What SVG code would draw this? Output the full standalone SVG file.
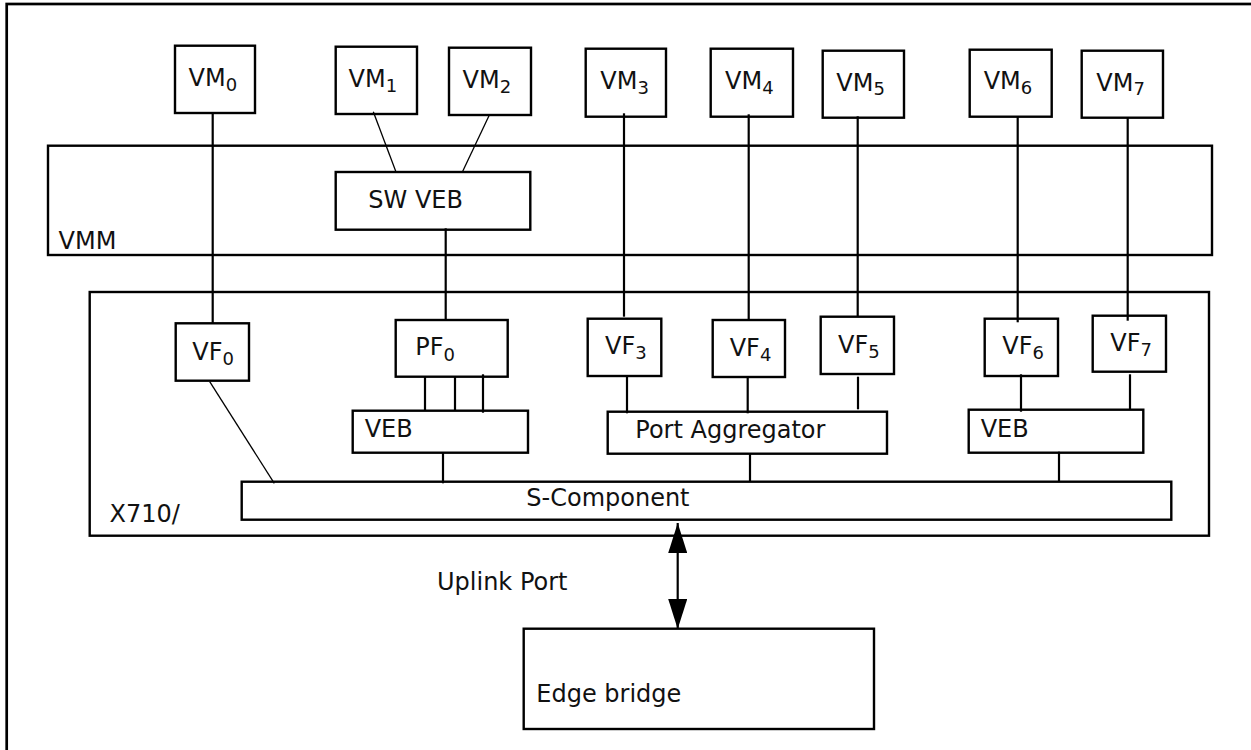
<svg xmlns="http://www.w3.org/2000/svg" width="1251" height="750" viewBox="0 0 1251 750">
<style>
.box{fill:none;stroke:#000;stroke-width:2.4}
.frame{fill:none;stroke:#000;stroke-width:2.7}
.ln{stroke:#000;stroke-width:2.2;fill:none}
.thin{stroke:#000;stroke-width:1.3;fill:none}
.t{font-family:"DejaVu Sans",Verdana,sans-serif;font-size:24px;fill:#111}
.s{font-size:18px}
</style>
<defs>
<marker id="ah" viewBox="0 0 30 19" refX="30" refY="9.5" markerWidth="30" markerHeight="19" markerUnits="userSpaceOnUse" orient="auto-start-reverse">
<path d="M0,0 L30,9.5 L0,19 z" fill="#000"/>
</marker>
</defs>
<rect width="1251" height="750" fill="#fff"/>
<rect id="outer-frame" class="frame" x="6.7" y="4" width="1270" height="780"/>

<g id="VMM">
<rect class="box" x="48" y="145.7" width="1164" height="109.3"/>
<text class="t" x="58.5" y="249">VMM</text>
</g>
<g id="X710">
<rect class="box" x="89.7" y="292" width="1119.3" height="243.7"/>
<text class="t" x="109.5" y="521.7">X710/</text>
</g>

<g id="connectors">
<line class="ln" x1="212.7" y1="113" x2="212.7" y2="323.3"/>
<line class="thin" x1="373.3" y1="111.7" x2="396.3" y2="172.7"/>
<line class="thin" x1="489" y1="115.7" x2="462" y2="172.7"/>
<line class="ln" x1="445.7" y1="228.3" x2="445.7" y2="319.7"/>
<line class="ln" x1="624" y1="113.3" x2="624" y2="316.7"/>
<line class="ln" x1="748.7" y1="114.3" x2="748.7" y2="319.3"/>
<line class="ln" x1="857.7" y1="116.3" x2="857.7" y2="316.7"/>
<line class="ln" x1="1017.7" y1="116.7" x2="1017.7" y2="322.3"/>
<line class="ln" x1="1127.7" y1="117.7" x2="1127.7" y2="320.7"/>
<line class="thin" x1="209.7" y1="381.7" x2="274.3" y2="483.3"/>
<line class="ln" x1="425" y1="376.7" x2="425" y2="410.7"/>
<line class="ln" x1="455" y1="376.7" x2="455" y2="410.7"/>
<line class="ln" x1="483" y1="374.3" x2="483" y2="412.7"/>
<line class="ln" x1="443" y1="452.7" x2="443" y2="483.3"/>
<line class="ln" x1="627" y1="376" x2="627" y2="413.3"/>
<line class="ln" x1="747.7" y1="377" x2="747.7" y2="413.3"/>
<line class="ln" x1="858" y1="376.7" x2="858" y2="409.3"/>
<line class="ln" x1="750" y1="453.7" x2="750" y2="481.7"/>
<line class="ln" x1="1021" y1="374.3" x2="1021" y2="411.7"/>
<line class="ln" x1="1130" y1="374.3" x2="1130" y2="409.7"/>
<line class="ln" x1="1059" y1="451.7" x2="1059" y2="481.7"/>
<line class="ln" x1="677.7" y1="523" x2="677.7" y2="629" stroke-width="2.8" marker-start="url(#ah)" marker-end="url(#ah)"/>
</g>

<g id="VM0"><rect class="box" x="175" y="45.7" width="80" height="67.3"/><text class="t" x="188.5" y="86">VM<tspan class="s" dy="4.7">0</tspan></text></g>
<g id="VM1"><rect class="box" x="335.7" y="46.7" width="81.3" height="67.3"/><text class="t" x="348.5" y="87.3">VM<tspan class="s" dy="4.7">1</tspan></text></g>
<g id="VM2"><rect class="box" x="449" y="47.7" width="82" height="67.3"/><text class="t" x="462.5" y="88.3">VM<tspan class="s" dy="4.7">2</tspan></text></g>
<g id="VM3"><rect class="box" x="585.7" y="48.7" width="80.3" height="68"/><text class="t" x="600.3" y="89.3">VM<tspan class="s" dy="4.7">3</tspan></text></g>
<g id="VM4"><rect class="box" x="710.7" y="48.7" width="82.3" height="68"/><text class="t" x="725" y="89.3">VM<tspan class="s" dy="4.7">4</tspan></text></g>
<g id="VM5"><rect class="box" x="822.7" y="50.7" width="81.3" height="67"/><text class="t" x="836.3" y="90.7">VM<tspan class="s" dy="4.7">5</tspan></text></g>
<g id="VM6"><rect class="box" x="969.7" y="49.7" width="82" height="67"/><text class="t" x="983.7" y="89.3">VM<tspan class="s" dy="4.7">6</tspan></text></g>
<g id="VM7"><rect class="box" x="1081.7" y="50.7" width="81.3" height="67"/><text class="t" x="1096.3" y="90.7">VM<tspan class="s" dy="4.7">7</tspan></text></g>

<g id="SW-VEB"><rect class="box" x="335.7" y="172" width="194.6" height="57.7"/><text class="t" x="368.3" y="207.7">SW VEB</text></g>

<g id="VF0"><rect class="box" x="175.7" y="323.3" width="73.3" height="57.4"/><text class="t" x="192.3" y="360">VF<tspan class="s" dy="5.2">0</tspan></text></g>
<g id="PF0"><rect class="box" x="395.7" y="320" width="112" height="56.7"/><text class="t" x="415.3" y="355.3">PF<tspan class="s" dy="5.2">0</tspan></text></g>
<g id="VF3"><rect class="box" x="587.7" y="318.7" width="73.6" height="57.3"/><text class="t" x="605" y="354">VF<tspan class="s" dy="5.2">3</tspan></text></g>
<g id="VF4"><rect class="box" x="712.7" y="320" width="72.3" height="57"/><text class="t" x="729.7" y="356">VF<tspan class="s" dy="5.2">4</tspan></text></g>
<g id="VF5"><rect class="box" x="820.7" y="316.7" width="73.3" height="57.3"/><text class="t" x="838" y="352.7">VF<tspan class="s" dy="5.2">5</tspan></text></g>
<g id="VF6"><rect class="box" x="984.7" y="318.7" width="73.3" height="57.3"/><text class="t" x="1002.3" y="354">VF<tspan class="s" dy="5.2">6</tspan></text></g>
<g id="VF7"><rect class="box" x="1092.7" y="315.7" width="73.3" height="56"/><text class="t" x="1110.3" y="350.7">VF<tspan class="s" dy="5.2">7</tspan></text></g>

<g id="VEB-left"><rect class="box" x="352.7" y="410.7" width="175.3" height="42"/><text class="t" x="364.7" y="437.3">VEB</text></g>
<g id="Port-Aggregator"><rect class="box" x="607.7" y="411.7" width="279.3" height="42"/><text class="t" x="635.3" y="438.3">Port Aggregator</text></g>
<g id="VEB-right"><rect class="box" x="968.7" y="409.7" width="174.6" height="43"/><text class="t" x="980.7" y="436.7">VEB</text></g>

<g id="S-Component"><rect class="box" x="241.7" y="481.7" width="929.6" height="38"/><text class="t" x="526.3" y="505.7">S-Component</text></g>

<g id="Uplink-Port"><text class="t" x="437" y="590">Uplink Port</text></g>
<g id="Edge-bridge"><rect class="box" x="523.7" y="628.7" width="350.3" height="100.3"/><text class="t" x="536.3" y="701.7">Edge bridge</text></g>
</svg>
